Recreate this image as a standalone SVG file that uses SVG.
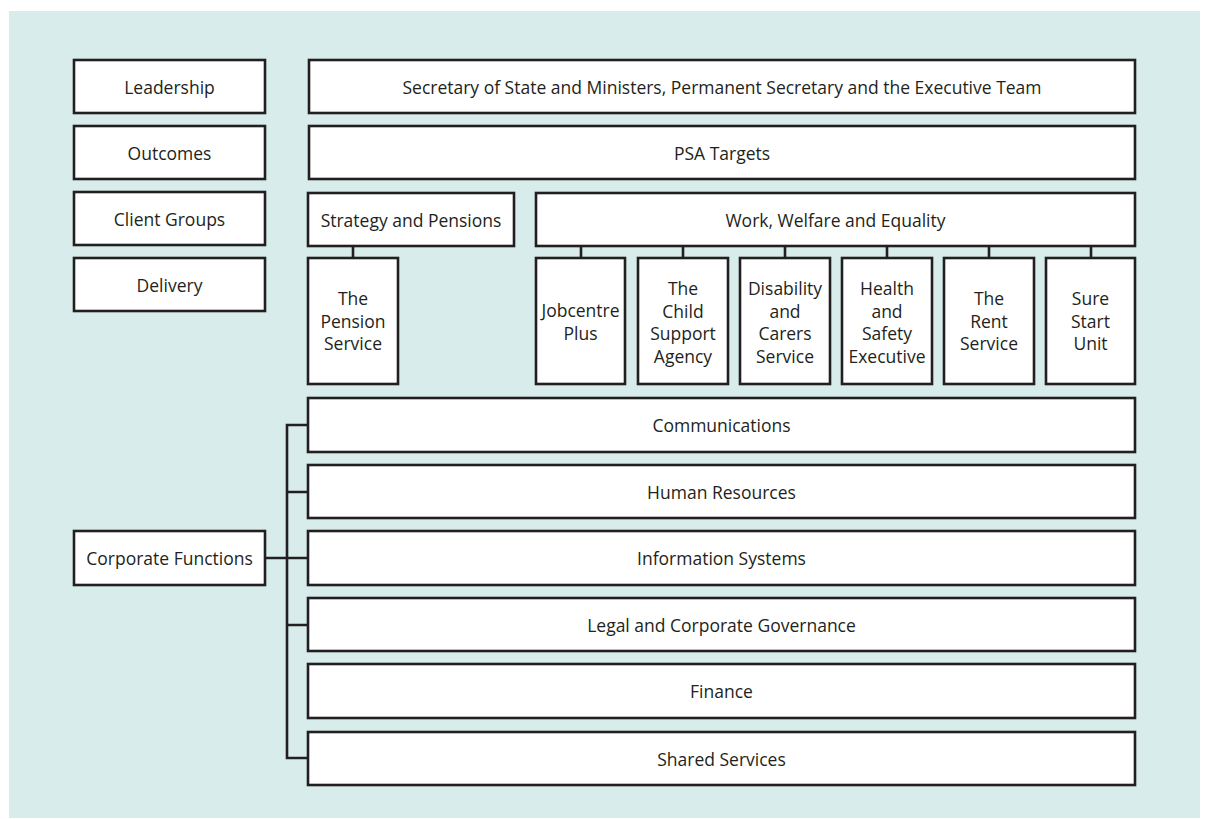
<svg xmlns="http://www.w3.org/2000/svg" width="1206" height="819" viewBox="0 0 1206 819">
<style>
.b{fill:#fff;stroke:#231f20;stroke-width:2.6}
.t{font-family:"Open Sans","Liberation Sans",sans-serif;font-size:17.5px;fill:#231f20;text-anchor:middle;dominant-baseline:central}
.c{fill:none;stroke:#231f20;stroke-width:2.6}
</style>
<rect x="0" y="0" width="1206" height="819" fill="#fff"/>
<rect x="9" y="11" width="1191" height="807" fill="#d7eceb"/>
<g id="connectors">
<path class="c" d="M353 246V258M581 246V258M683 246V258M785 246V258M887 246V258M989 246V258M1091 246V258"/>
<path class="c" d="M308 425H287V758H308M287 492H308M265 558H308M287 625H308"/>
</g>
<g id="leadership"><rect class="b" x="74" y="60" width="191" height="53"/><text class="t" x="169.5" y="87">Leadership</text></g>
<g id="outcomes"><rect class="b" x="74" y="126" width="191" height="53"/><text class="t" x="169.5" y="153">Outcomes</text></g>
<g id="clientgroups"><rect class="b" x="74" y="192" width="191" height="53"/><text class="t" x="169.5" y="219">Client Groups</text></g>
<g id="delivery"><rect class="b" x="74" y="258" width="191" height="53"/><text class="t" x="169.5" y="285">Delivery</text></g>
<g id="secretary"><rect class="b" x="309" y="60" width="826" height="53"/><text class="t" x="722" y="87">Secretary of State and Ministers, Permanent Secretary and the Executive Team</text></g>
<g id="psa"><rect class="b" x="309" y="126" width="826" height="53"/><text class="t" x="722" y="153">PSA Targets</text></g>
<g id="strategy"><rect class="b" x="308" y="193" width="206" height="53"/><text class="t" x="411" y="220">Strategy and Pensions</text></g>
<g id="work"><rect class="b" x="536" y="193" width="599" height="53"/><text class="t" x="835.5" y="220">Work, Welfare and Equality</text></g>
<g id="pension"><rect class="b" x="308" y="258" width="90" height="126"/><text class="t" x="353" y="298">The</text><text class="t" x="353" y="320.5">Pension</text><text class="t" x="353" y="343">Service</text></g>
<g id="jobcentre"><rect class="b" x="536" y="258" width="89" height="126"/><text class="t" x="580.5" y="310">Jobcentre</text><text class="t" x="580.5" y="332.5">Plus</text></g>
<g id="child"><rect class="b" x="638" y="258" width="90" height="126"/><text class="t" x="683" y="288">The</text><text class="t" x="683" y="310.5">Child</text><text class="t" x="683" y="333">Support</text><text class="t" x="683" y="355.5">Agency</text></g>
<g id="disability"><rect class="b" x="740" y="258" width="90" height="126"/><text class="t" x="785" y="288">Disability</text><text class="t" x="785" y="310.5">and</text><text class="t" x="785" y="333">Carers</text><text class="t" x="785" y="355.5">Service</text></g>
<g id="health"><rect class="b" x="842" y="258" width="90" height="126"/><text class="t" x="887" y="288">Health</text><text class="t" x="887" y="310.5">and</text><text class="t" x="887" y="333">Safety</text><text class="t" x="887" y="355.5">Executive</text></g>
<g id="rent"><rect class="b" x="944" y="258" width="90" height="126"/><text class="t" x="989" y="298">The</text><text class="t" x="989" y="320.5">Rent</text><text class="t" x="989" y="343">Service</text></g>
<g id="surestart"><rect class="b" x="1046" y="258" width="89" height="126"/><text class="t" x="1090.5" y="298">Sure</text><text class="t" x="1090.5" y="320.5">Start</text><text class="t" x="1090.5" y="343">Unit</text></g>
<g id="corporate"><rect class="b" x="74" y="531" width="191" height="54"/><text class="t" x="169.5" y="558">Corporate Functions</text></g>
<g id="communications"><rect class="b" x="308" y="398" width="827" height="54"/><text class="t" x="721.5" y="425">Communications</text></g>
<g id="hr"><rect class="b" x="308" y="465" width="827" height="53"/><text class="t" x="721.5" y="492">Human Resources</text></g>
<g id="is"><rect class="b" x="308" y="531" width="827" height="54"/><text class="t" x="721.5" y="558">Information Systems</text></g>
<g id="legal"><rect class="b" x="308" y="598" width="827" height="53"/><text class="t" x="721.5" y="625">Legal and Corporate Governance</text></g>
<g id="finance"><rect class="b" x="308" y="664" width="827" height="54"/><text class="t" x="721.5" y="691">Finance</text></g>
<g id="shared"><rect class="b" x="308" y="732" width="827" height="53"/><text class="t" x="721.5" y="758.5">Shared Services</text></g>
</svg>
